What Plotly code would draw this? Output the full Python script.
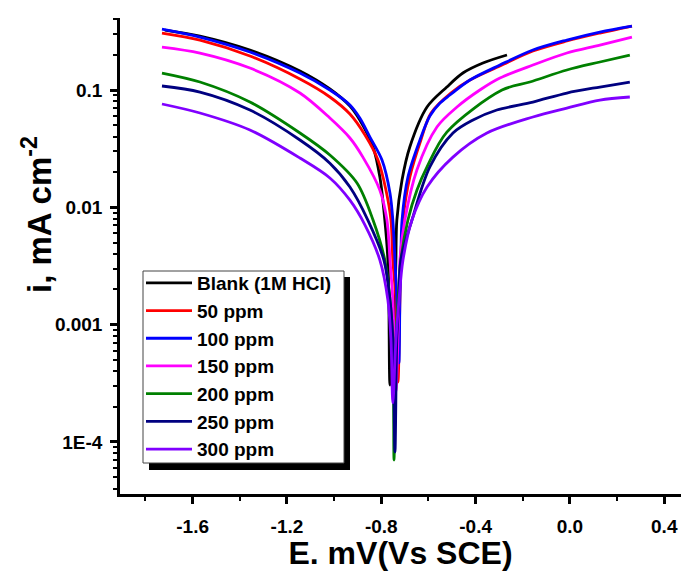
import plotly.graph_objects as go

# ---------------- data (E in V vs SCE, i in mA cm^-2) ----------------
E_blank = [-1.718, -1.569, -1.357, -1.145, -1.018, -0.933, -0.891, -0.835, -0.806, -0.785,
           -0.772, -0.768, -0.763, -0.751, -0.742, -0.738, -0.734, -0.712, -0.679, -0.606,
           -0.522, -0.454, -0.369, -0.267]
i_blank = [0.3247, 0.2886, 0.2193, 0.1452, 0.1020, 0.0731, 0.0555, 0.0327, 0.0181, 0.00779,
           0.00355, 0.00162, 0.000305, 0.000739, 0.00162, 0.00355, 0.00779, 0.0171, 0.0327, 0.0716,
           0.1061, 0.1396, 0.1699, 0.1988]

E_50 = [-1.730, -1.569, -1.357, -1.145, -1.018, -0.933, -0.869, -0.814, -0.780, -0.759,
        -0.751, -0.738, -0.729, -0.721, -0.717, -0.708, -0.679, -0.632, -0.589, -0.505,
        -0.424, -0.297, -0.157, -0.013, 0.127, 0.263]
i_50 = [0.3061, 0.2668, 0.1950, 0.1241, 0.0872, 0.0624, 0.0413, 0.0253, 0.0140, 0.00779,
        0.00355, 0.00162, 0.000324, 0.00162, 0.00355, 0.00779, 0.0181, 0.0375, 0.0637, 0.0943,
        0.1217, 0.1602, 0.2150, 0.2617, 0.3061, 0.3513]

E_100 = [-1.730, -1.569, -1.357, -1.145, -1.018, -0.933, -0.891, -0.848, -0.797, -0.763,
         -0.751, -0.742, -0.734, -0.725, -0.721, -0.717, -0.712, -0.687, -0.636, -0.594,
         -0.551, -0.509, -0.424, -0.297, -0.157, -0.013, 0.127, 0.263]
i_100 = [0.3311, 0.2830, 0.2109, 0.1396, 0.1000, 0.0745, 0.0577, 0.0397, 0.0253, 0.0132,
         0.00779, 0.00355, 0.00162, 0.000471, 0.00162, 0.00355, 0.00779, 0.0181, 0.0375, 0.0600,
         0.0774, 0.0907, 0.1217, 0.1633, 0.2193, 0.2668, 0.3122, 0.3513]

E_150 = [-1.730, -1.569, -1.357, -1.145, -1.018, -0.933, -0.878, -0.806, -0.776, -0.763,
         -0.751, -0.738, -0.725, -0.721, -0.700, -0.649, -0.564, -0.479, -0.382, -0.297,
         -0.157, -0.013, 0.127, 0.263]
i_150 = [0.2326, 0.2067, 0.1540, 0.0943, 0.0577, 0.0390, 0.0268, 0.0140, 0.00779, 0.00355,
         0.00162, 0.000266, 0.00162, 0.00355, 0.00779, 0.0208, 0.0484, 0.0716, 0.1000, 0.1266,
         0.1633, 0.2067, 0.2418, 0.2830]

E_200 = [-1.730, -1.569, -1.357, -1.145, -1.018, -0.903, -0.835, -0.785, -0.763, -0.751,
         -0.746, -0.738, -0.729, -0.717, -0.687, -0.649, -0.606, -0.522, -0.288, -0.170,
         -0.013, 0.127, 0.254]
i_200 = [0.1396, 0.1170, 0.0790, 0.0430, 0.0279, 0.0161, 0.00779, 0.00355, 0.00162, 0.000739,
         0.0000701, 0.000739, 0.00162, 0.00355, 0.00779, 0.0140, 0.0221, 0.0438, 0.1000, 0.1170,
         0.1481, 0.1733, 0.1988]

E_250 = [-1.730, -1.569, -1.357, -1.145, -1.018, -0.933, -0.857, -0.789, -0.763, -0.751,
         -0.742, -0.734, -0.725, -0.717, -0.670, -0.594, -0.496, -0.411, -0.310, -0.157,
         -0.013, 0.127, 0.254]
i_250 = [0.1082, 0.0961, 0.0675, 0.0375, 0.0238, 0.0149, 0.00779, 0.00355, 0.00162, 0.000739,
         0.0000820, 0.000739, 0.00162, 0.00355, 0.00779, 0.0221, 0.0430, 0.0555, 0.0675, 0.0790,
         0.0943, 0.1061, 0.1170]

E_300 = [-1.730, -1.569, -1.357, -1.145, -1.018, -0.933, -0.869, -0.806, -0.772, -0.759,
         -0.751, -0.738, -0.725, -0.708, -0.670, -0.606, -0.496, -0.352, -0.157, -0.013,
         0.127, 0.254]
i_300 = [0.0760, 0.0637, 0.0456, 0.0263, 0.0178, 0.0115, 0.00706, 0.00355, 0.00162, 0.000739,
         0.000215, 0.000739, 0.00162, 0.00355, 0.00779, 0.0149, 0.0268, 0.0430, 0.0589, 0.0702,
         0.0822, 0.0872]

series_names = ["Blank (1M HCl)", "50 ppm", "100 ppm", "150 ppm", "200 ppm", "250 ppm", "300 ppm"]
series_E = [E_blank, E_50, E_100, E_150, E_200, E_250, E_300]
series_i = [i_blank, i_50, i_100, i_150, i_200, i_250, i_300]
series_colors = ["#000000", "#FF0000", "#0000FF", "#FF00FF", "#008000", "#000080", "#8000FF"]

x_tickvals = [-1.6, -1.2, -0.8, -0.4, 0.0, 0.4]
x_ticktext = ["-1.6", "-1.2", "-0.8", "-0.4", "0.0", "0.4"]
y_tickvals = [1e-4, 1e-3, 1e-2, 1e-1]
y_ticktext = ["1E-4", "0.001", "0.01", "0.1"]

FONT = "Liberation Sans, Arial, sans-serif"

fig = go.Figure()
for name, ex, iy, col in zip(series_names, series_E, series_i, series_colors):
    fig.add_trace(go.Scatter(
        x=ex, y=iy, name=name, mode="lines",
        line=dict(color=col, width=2.8, shape="spline", smoothing=0.9),
    ))

# plot-area geometry in pixels (for legend box placement)
W, H = 681, 571
L, R, T, B = 120, 0, 18, 77
pw, ph = W - L - R, H - T - B


def px(xp):
    return (xp - L) / pw


def py(yp):
    return (H - B - yp) / ph


minor_y = [k * 10.0 ** n for n in range(-5, 0) for k in range(2, 10)]

fig.update_layout(
    width=W, height=H,
    margin=dict(l=L, r=R, t=T, b=B),
    paper_bgcolor="white", plot_bgcolor="white",
    font=dict(family=FONT, color="black"),
    showlegend=True,
    legend=dict(
        x=px(141), y=py(264), xanchor="left", yanchor="top",
        bgcolor="rgba(0,0,0,0)", borderwidth=0,
        font=dict(family=FONT, size=19, color="black", weight="bold"),
        itemwidth=46,
    ),
    xaxis=dict(
        range=[-1.908, 0.471],
        showline=True, linecolor="black", linewidth=2.5,
        showgrid=False, zeroline=False, mirror=False,
        tickmode="array", tickvals=x_tickvals, ticktext=x_ticktext,
        ticks="outside", ticklen=7, tickwidth=2.5, tickcolor="black",
        minor=dict(dtick=0.2, tick0=0, ticks="outside", ticklen=4, tickwidth=2, tickcolor="black", showgrid=False),
        tickfont=dict(family=FONT, size=19, color="black", weight="bold"),
        ticklabelstandoff=6,
        title=dict(text="E. mV(Vs SCE)", font=dict(family=FONT, size=32, color="black", weight="bold"),
                   standoff=2),
    ),
    yaxis=dict(
        type="log", range=[-4.444, -0.386],
        showline=True, linecolor="black", linewidth=2.5,
        showgrid=False, zeroline=False, mirror=False,
        tickmode="array", tickvals=y_tickvals, ticktext=y_ticktext,
        ticks="outside", ticklen=7, tickwidth=2.5, tickcolor="black",
        minor=dict(tickmode="array", tickvals=minor_y, ticks="outside", ticklen=4, tickwidth=1.5,
                   tickcolor="black", showgrid=False),
        tickfont=dict(family=FONT, size=19, color="black", weight="bold"),
        ticklabelstandoff=4,
    ),
    annotations=[dict(
        text="i, mA cm<sup>-2</sup>", xref="paper", yref="paper",
        x=px(37), y=py(215), xanchor="center", yanchor="middle", textangle=-90,
        showarrow=False, font=dict(family=FONT, size=33, color="black", weight="bold"),
    )],
    shapes=[
        dict(type="rect", xref="paper", yref="paper", layer="above",
             x0=px(149), x1=px(350), y0=py(470), y1=py(277),
             fillcolor="black", line=dict(width=0)),
        dict(type="rect", xref="paper", yref="paper", layer="above",
             x0=px(143), x1=px(344), y0=py(463), y1=py(271),
             fillcolor="white", line=dict(color="#444444", width=1)),
    ],
)

fig.write_html("out.html")
